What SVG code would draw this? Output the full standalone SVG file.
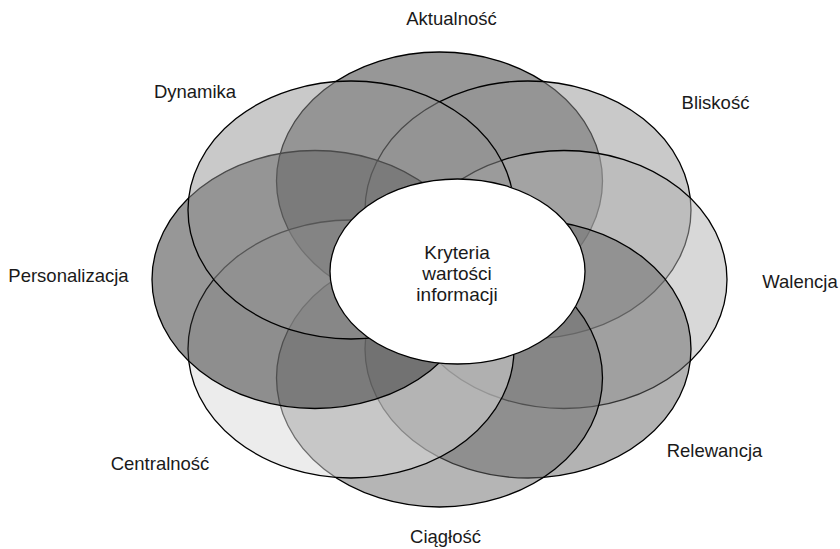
<svg xmlns="http://www.w3.org/2000/svg" width="840" height="549" viewBox="0 0 840 549">
  <style>
    .petal { stroke: #000; stroke-width: 1.3; fill-opacity: 0.5; }
    .lbl { font-family: "Liberation Sans", Arial, sans-serif; font-size: 18.5px; fill: #1a1a1a; text-anchor: middle; }
    .ctr { font-family: "Liberation Sans", Arial, sans-serif; font-size: 19px; fill: #1a1a1a; text-anchor: middle; }
  </style>
  <rect width="840" height="549" fill="#fff"/>
  <g id="aktualnosc">
    <ellipse class="petal" cx="439.5" cy="181" rx="163" ry="129" fill="#2f2f2f"/>
    <text class="lbl" x="451.5" y="25">Aktualność</text>
  </g>
  <g id="bliskosc">
    <ellipse class="petal" cx="528" cy="210" rx="163" ry="129" fill="#939393"/>
    <text class="lbl" x="715.5" y="109">Bliskość</text>
  </g>
  <g id="walencja">
    <ellipse class="petal" cx="564" cy="279.5" rx="163" ry="129" fill="#b1b1b1"/>
    <text class="lbl" x="800" y="288">Walencja</text>
  </g>
  <g id="relewancja">
    <ellipse class="petal" cx="528" cy="349" rx="163" ry="129" fill="#676767"/>
    <text class="lbl" x="714.5" y="457">Relewancja</text>
  </g>
  <g id="ciaglosc">
    <ellipse class="petal" cx="439.5" cy="378" rx="163" ry="129" fill="#6b6b6b"/>
    <text class="lbl" x="445.5" y="543">Ciągłość</text>
  </g>
  <g id="centralnosc">
    <ellipse class="petal" cx="351" cy="349" rx="163" ry="129" fill="#d9d9d9"/>
    <text class="lbl" x="160" y="470">Centralność</text>
  </g>
  <g id="personalizacja">
    <ellipse class="petal" cx="315" cy="279.5" rx="163" ry="129" fill="#2f2f2f"/>
    <text class="lbl" x="68.5" y="282">Personalizacja</text>
  </g>
  <g id="dynamika">
    <ellipse class="petal" cx="351" cy="210" rx="163" ry="129" fill="#939393"/>
    <text class="lbl" x="195" y="98">Dynamika</text>
  </g>
  <g id="kryteria">
    <ellipse cx="457.5" cy="271.5" rx="127.5" ry="92.5" fill="#fff" stroke="#000" stroke-width="1.3"/>
    <text class="ctr" x="457" y="259">Kryteria</text>
    <text class="ctr" x="457" y="280">wartości</text>
    <text class="ctr" x="457" y="301">informacji</text>
  </g>
  <g id="connectors"/>
</svg>
